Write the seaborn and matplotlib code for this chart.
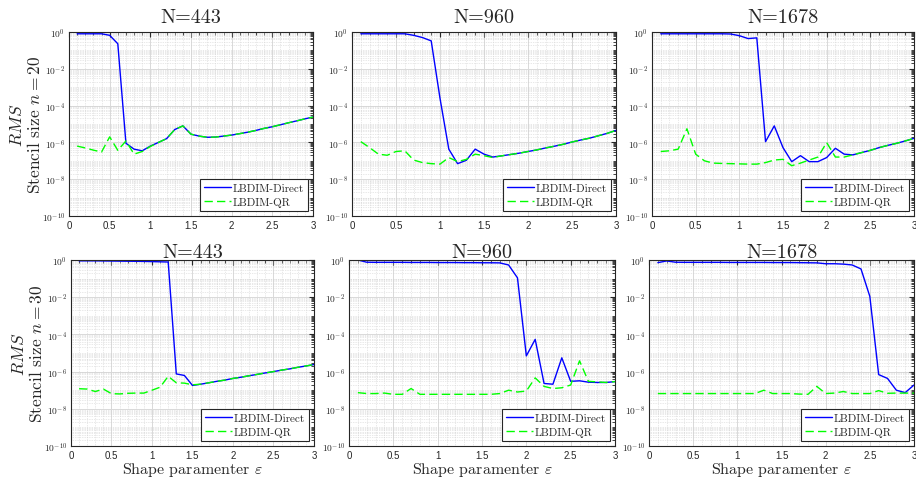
import math
import matplotlib

matplotlib.use('Agg')
import matplotlib.pyplot as plt
import matplotlib.ticker as mticker
import seaborn as sns

# shape parameter values
eps = [0.1, 0.2, 0.3, 0.4, 0.5, 0.6, 0.7, 0.8, 0.9, 1.0,
       1.1, 1.2, 1.3, 1.4, 1.5, 1.6, 1.7, 1.8, 1.9, 2.0,
       2.1, 2.2, 2.3, 2.4, 2.5, 2.6, 2.7, 2.8, 2.9, 3.0]

# stencil size n = 20
direct_443_n20 = [0.8, 0.8, 0.8, 0.8, 0.66, 0.23, 9e-7, 4.3e-7, 3.5e-7, 6.3e-7,
                  1.0e-6, 1.6e-6, 5.0e-6, 7.9e-6, 2.8e-6, 2.2e-6, 1.9e-6, 1.95e-6, 2.2e-6, 2.5e-6,
                  3.0e-6, 3.6e-6, 4.5e-6, 5.8e-6, 7.1e-6, 9.1e-6, 1.17e-5, 1.48e-5, 1.9e-5, 2.4e-5]
qr_443_n20 = [6.3e-7, 5.0e-7, 3.8e-7, 3.0e-7, 2.0e-6, 3.7e-7, 1.2e-6, 2.3e-7, 3.2e-7, 6.0e-7,
              1.0e-6, 1.6e-6, 5.0e-6, 7.9e-6, 2.8e-6, 2.2e-6, 1.9e-6, 1.95e-6, 2.2e-6, 2.5e-6,
              3.0e-6, 3.6e-6, 4.5e-6, 5.8e-6, 7.1e-6, 9.1e-6, 1.17e-5, 1.48e-5, 1.9e-5, 2.4e-5]

direct_960_n20 = [0.8, 0.8, 0.8, 0.8, 0.8, 0.8, 0.66, 0.5, 0.33, 2.5e-4,
                  4.3e-7, 7e-8, 1.07e-7, 4.3e-7, 2.3e-7, 1.6e-7, 1.86e-7, 2.2e-7, 2.6e-7, 3.2e-7,
                  3.9e-7, 5.0e-7, 6.2e-7, 7.9e-7, 1.05e-6, 1.35e-6, 1.7e-6, 2.3e-6, 3.1e-6, 4.5e-6]
qr_960_n20 = [1.1e-6, 5.2e-7, 2.3e-7, 2.0e-7, 3.2e-7, 3.5e-7, 1.1e-7, 8e-8, 7e-8, 6.6e-8,
              1.5e-7, 9e-8, 1.2e-7, 2.3e-7, 1.9e-7, 1.5e-7, 1.86e-7, 2.2e-7, 2.6e-7, 3.2e-7,
              3.9e-7, 5.0e-7, 6.2e-7, 7.9e-7, 1.05e-6, 1.35e-6, 1.7e-6, 2.3e-6, 3.1e-6, 4.5e-6]

direct_1678_n20 = [0.8, 0.8, 0.8, 0.8, 0.8, 0.8, 0.8, 0.8, 0.78, 0.63,
                   0.44, 0.48, 1.1e-6, 7.9e-6, 5.2e-7, 9e-8, 1.9e-7, 9e-8, 9e-8, 1.5e-7,
                   4.8e-7, 2.3e-7, 2.1e-7, 2.8e-7, 3.7e-7, 5.2e-7, 6.9e-7, 8.9e-7, 1.2e-6, 1.66e-6]
qr_1678_n20 = [3.2e-7, 3.5e-7, 4.3e-7, 5.5e-6, 2.3e-7, 1.0e-7, 7.5e-8, 7.2e-8, 7.0e-8, 6.8e-8,
               6.6e-8, 6.6e-8, 8e-8, 1.1e-7, 1.2e-7, 5.4e-8, 7.5e-8, 1.1e-7, 1.6e-7, 9.8e-7,
               1.6e-7, 1.6e-7, 2.1e-7, 2.8e-7, 3.7e-7, 5.2e-7, 6.9e-7, 8.9e-7, 1.2e-6, 1.66e-6]

# stencil size n = 30
direct_443_n30 = [0.9, 0.9, 0.9, 0.89, 0.88, 0.87, 0.86, 0.85, 0.84, 0.82,
                  0.8, 0.78, 7.5e-7, 6.2e-7, 1.8e-7, 2.1e-7, 2.5e-7, 3.0e-7, 3.5e-7, 4.3e-7,
                  5.0e-7, 6.0e-7, 7.1e-7, 8.5e-7, 1.0e-6, 1.2e-6, 1.4e-6, 1.7e-6, 2.0e-6, 2.4e-6]
qr_443_n30 = [1.2e-7, 1.15e-7, 8.5e-8, 1.15e-7, 6.5e-8, 6.3e-8, 6.8e-8, 7e-8, 7e-8, 1.0e-7,
              1.45e-7, 5.6e-7, 2.5e-7, 2.4e-7, 1.95e-7, 2.1e-7, 2.5e-7, 3.0e-7, 3.5e-7, 4.3e-7,
              5.0e-7, 6.0e-7, 7.1e-7, 8.5e-7, 1.0e-6, 1.2e-6, 1.4e-6, 1.7e-6, 2.0e-6, 2.4e-6]

direct_960_n30 = [1.0, 0.76, 0.75, 0.75, 0.75, 0.75, 0.74, 0.74, 0.74, 0.73,
                  0.73, 0.73, 0.72, 0.72, 0.71, 0.71, 0.7, 0.54, 0.11, 7e-6,
                  5.4e-5, 2.3e-7, 2.1e-7, 5.5e-6, 3.0e-7, 3.2e-7, 2.7e-7, 2.6e-7, 2.6e-7, 2.9e-7]
qr_960_n30 = [7.4e-8, 6.6e-8, 6.6e-8, 7e-8, 6e-8, 6e-8, 1.23e-7, 6e-8, 6e-8, 6e-8,
              6e-8, 6e-8, 6e-8, 6e-8, 6e-8, 6e-8, 6.6e-8, 1.0e-7, 8e-8, 9e-8,
              4.6e-7, 1.6e-7, 1.23e-7, 1.35e-7, 1.9e-7, 3.8e-6, 3.0e-7, 2.8e-7, 2.6e-7, 2.9e-7]

direct_1678_n30 = [0.72, 0.89, 0.76, 0.75, 0.75, 0.75, 0.75, 0.75, 0.74, 0.74,
                   0.74, 0.74, 0.74, 0.73, 0.73, 0.73, 0.72, 0.71, 0.7, 0.63,
                   0.63, 0.6, 0.54, 0.33, 0.011, 6.9e-7, 4.3e-7, 1.0e-7, 7.4e-8, 1.9e-7]
qr_1678_n30 = [6.6e-8, 6.6e-8, 6.6e-8, 6.6e-8, 6.6e-8, 6.6e-8, 6.6e-8, 6.6e-8, 6.6e-8, 6.6e-8,
               6.6e-8, 6.6e-8, 1.0e-7, 6.6e-8, 6.6e-8, 6.6e-8, 6.2e-8, 6e-8, 1.6e-7, 6.6e-8,
               7e-8, 8.5e-8, 6.6e-8, 6.6e-8, 6.6e-8, 9.5e-8, 6.8e-8, 7e-8, 7e-8, 7e-8]

titles = ['N=443', 'N=960', 'N=1678']
stencils = [20, 30]
direct_rows = [[direct_443_n20, direct_960_n20, direct_1678_n20],
               [direct_443_n30, direct_960_n30, direct_1678_n30]]
qr_rows = [[qr_443_n20, qr_960_n20, qr_1678_n20],
           [qr_443_n30, qr_960_n30, qr_1678_n30]]

sns.set_style("white")
plt.rcParams['mathtext.fontset'] = 'cm'
plt.rcParams['axes.formatter.use_mathtext'] = True
plt.rcParams['axes.unicode_minus'] = False

W, H = 916, 481
fig = plt.figure(figsize=(W / 100, H / 100), dpi=100)

# axes boxes in pixels: (left, right) per column, (top, bottom) per row
cols_px = [[(69, 313), (352, 616), (652, 914)],
           [(71, 314), (349, 615), (649, 914)]]
rows_px = [(33, 217), (261, 447)]

serif = 'cmr10'
tick_col = '#262626'


def log_fmt(v, pos):
    if v <= 0:
        return ''
    e = int(round(math.log10(v)))
    return r'$\mathsf{10^{%d}}$' % e


for r in range(2):
    for c in range(3):
        l, rt = cols_px[r][c]
        t, b = rows_px[r]
        ax = fig.add_axes([l / W, 1 - b / H, (rt - l) / W, (b - t) / H])

        sns.lineplot(x=eps, y=direct_rows[r][c], ax=ax, color='#0000ff', lw=1.0,
                     label='LBDIM-Direct', estimator=None)
        sns.lineplot(x=eps, y=qr_rows[r][c], ax=ax, color='#00ff00', lw=1.0,
                     linestyle=(0, (6, 3)), label='LBDIM-QR', estimator=None)

        ax.set_yscale('log')
        ax.set_ylim(1e-10, 1)
        ax.set_xlim(0, 3)
        ax.yaxis.set_major_locator(mticker.FixedLocator([1e-10, 1e-8, 1e-6, 1e-4, 1e-2, 1]))
        ax.yaxis.set_minor_locator(mticker.LogLocator(base=10, subs=range(1, 10), numticks=30))
        ax.yaxis.set_major_formatter(mticker.FuncFormatter(log_fmt))
        ax.yaxis.set_minor_formatter(mticker.NullFormatter())
        ax.xaxis.set_major_locator(mticker.MultipleLocator(0.5))
        ax.xaxis.set_minor_locator(mticker.MultipleLocator(0.1))
        ax.xaxis.set_major_formatter(mticker.FuncFormatter(lambda v, p: ('%g' % v)))

        ax.grid(True, which='major', color='#d9d9d9', lw=0.7, ls='-')
        ax.grid(True, which='minor', color='#d2d2d2', lw=0.5, ls=(0, (1, 1.5)))
        ax.set_axisbelow(True)

        ax.tick_params(which='both', direction='in', top=True, right=True,
                       colors=tick_col, labelsize=6.8)
        ax.tick_params(which='major', length=3.5, pad=3)
        ax.tick_params(which='minor', length=2)
        for lab in ax.get_xticklabels():
            lab.set_family('Liberation Sans')
            lab.set_fontsize(7)
        for s in ax.spines.values():
            s.set_color('#262626')
            s.set_linewidth(0.8)

        ax.set_title(titles[c], family=serif, fontsize=14.5, pad=7 if r == 0 else 2)
        if c == 0:
            ax.set_ylabel('$RMS$\nStencil size $n=%d$' % stencils[r], family=serif,
                          fontsize=12.5, linespacing=1.05)
            ax.yaxis.set_label_coords(-0.108, 0.5)
        else:
            ax.set_ylabel('')
        if r == 1:
            ax.set_xlabel(r'Shape paramenter $\varepsilon$', family=serif, fontsize=11.5,
                          labelpad=0)
        else:
            ax.set_xlabel('')

        leg = ax.legend(loc='lower right', prop={'family': serif, 'size': 8},
                        fancybox=False, edgecolor='#262626', framealpha=1,
                        borderaxespad=0.45, handlelength=2.4, handletextpad=0.2,
                        borderpad=0.35, labelspacing=0.4)
        leg.get_frame().set_linewidth(0.8)

fig.savefig('out.png', dpi=100)
plt.close()
